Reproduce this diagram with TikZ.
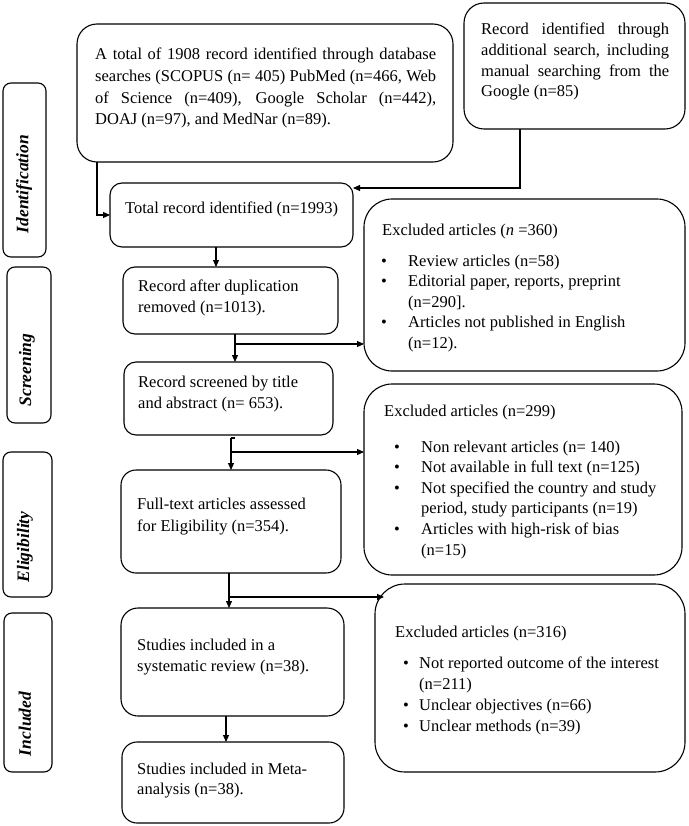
\documentclass[tikz,border=0pt]{standalone}
\usepackage{fontspec}
\setmainfont{Liberation Serif}
\usetikzlibrary{arrows.meta}
\newcommand\mybox[6]{\node[boxst, rounded corners=#6, minimum width=#4pt-#2pt, minimum height=#5pt-#3pt, anchor=north west] (#1) at (#2,#3) {};}
\begin{document}
\begin{tikzpicture}[x=1pt,y=-1pt,
  boxst/.style={draw, line width=1.1pt, inner sep=0pt, outer sep=0pt},
  txt/.style={anchor=base west, inner sep=0pt, align=left, font=\fontsize{16.5}{21}\selectfont},
  bul/.style={anchor=base, inner sep=0pt, font=\fontsize{16.5}{21}\selectfont},
  phase/.style={rotate=90, inner sep=0pt, font=\fontsize{17.5}{20}\selectfont\bfseries\itshape},
  arr/.style={line width=1.1pt, -{Triangle[length=7pt,width=6pt]}},
  ln/.style={line width=1.1pt}]
\useasboundingbox (0,0) rectangle (688,826);
% phase boxes
\mybox{PI}{3}{83}{46}{257}{8pt}
\mybox{PS}{7}{267}{51}{423}{8pt}
\mybox{PE}{3}{452}{52}{597}{8pt}
\mybox{PN}{4}{613}{52}{772}{8pt}
\node[phase] (LI) at (24,184) {Identification};
\node[phase] (LS) at (27,370) {Screening};
\node[phase] (LE) at (25,547) {Eligibility};
\node[phase] (LN) at (25,724) {Included};
% main boxes
\mybox{A}{77}{24}{453}{162}{20pt}
\mybox{B}{464}{3}{685}{129}{20pt}
\mybox{T}{110}{183}{353}{247}{12pt}
\mybox{D}{123}{267}{338}{334}{12pt}
\mybox{S}{124}{362}{333}{435}{12pt}
\mybox{F}{121}{470}{341}{573}{15pt}
\mybox{R}{121}{608}{344}{716}{17pt}
\mybox{M}{122}{742}{344}{823}{15pt}
\mybox{E1}{364}{199}{685}{371}{28pt}
\mybox{E2}{364}{384}{682}{575}{28pt}
\mybox{E3}{375}{584}{685}{772}{30pt}
% texts (anchored at the baseline of the last line)
\node[txt, font=\fontsize{16.5}{21.8}\selectfont] (tA) at (95,125) {\makebox[341pt][s]{A total of 1908 record identified through database}\\
\makebox[341pt][s]{searches (SCOPUS (n= 405) PubMed (n=466, Web}\\
\makebox[341pt][s]{of Science (n=409), Google Scholar (n=442),}\\
DOAJ (n=97), and MedNar (n=89).};
\node[txt, font=\fontsize{16.5}{20.7}\selectfont] (tB) at (481,97) {\makebox[188pt][s]{Record identified through}\\
\makebox[188pt][s]{additional search, including}\\
\makebox[188pt][s]{manual searching from the}\\
Google (n=85)};
\node[txt] (tT) at (125,214) {Total record identified (n=1993)};
\node[txt] (tD) at (138,312) {Record after duplication\\ removed (n=1013).};
\node[txt] (tS) at (138,408) {Record screened by title\\ and abstract (n= 653).};
\node[txt, font=\fontsize{16.5}{22}\selectfont] (tF) at (137,531) {Full-text articles assessed\\ for Eligibility (n=354).};
\node[txt] (tR) at (137,671) {Studies included in a\\ systematic review (n=38).};
\node[txt, font=\fontsize{16.5}{20}\selectfont] (tM) at (137,794) {Studies included in Meta-\\ analysis (n=38).};
% excluded 1
\node[txt] (e1t) at (382,235) {Excluded articles (\textit{n} =360)};
\node[txt, font=\fontsize{16.5}{20.5}\selectfont] (e1l) at (408,348) {Review articles (n=58)\\ Editorial paper, reports, preprint\\ (n=290].\\ Articles not published in English\\ (n=12).};
\node[bul] (e1a) at (384,266) {\textbullet};
\node[bul] (e1b) at (384,286.5) {\textbullet};
\node[bul] (e1c) at (384,327.5) {\textbullet};
% excluded 2
\node[txt] (e2t) at (384,416) {Excluded articles (n=299)};
\node[txt, font=\fontsize{16.5}{20.6}\selectfont] (e2l) at (421,555) {Non relevant articles (n= 140)\\ Not available in full text (n=125)\\ Not specified the country and study\\ period, study participants (n=19)\\ Articles with high-risk of bias\\ (n=15)};
\node[bul] (e2a) at (397,452) {\textbullet};
\node[bul] (e2b) at (397,472.6) {\textbullet};
\node[bul] (e2c) at (397,493.2) {\textbullet};
\node[bul] (e2d) at (397,534.4) {\textbullet};
% excluded 3
\node[txt] (e3t) at (395,637) {Excluded articles (n=316)};
\node[txt, font=\fontsize{16.5}{21.3}\selectfont] (e3l) at (419,731.9) {Not reported outcome of the interest\\ (n=211)\\ Unclear objectives (n=66)\\ Unclear methods (n=39)};
\node[bul] (e3a) at (406,668) {\textbullet};
\node[bul] (e3b) at (406,710.6) {\textbullet};
\node[bul] (e3c) at (406,731.9) {\textbullet};
% connectors
\coordinate (a1) at (97,0);
\draw[arr] (A.south -| a1) |- (T.west);
\coordinate (b1) at (520,188);
\draw[arr] (B.south -| b1) |- (b1 -| T.east);
\coordinate (c1) at (216,0);
\draw[arr] (T.south -| c1) -- (D.north -| c1);
\coordinate (j1) at (235,344);
\draw[arr] (D.south -| j1) -- (S.north -| j1);
\draw[arr] (j1) -- (j1 -| E1.west);
\coordinate (j2) at (231,452);
\coordinate (k2) at (231,438);
\draw[ln] ([xshift=4pt]k2) -- (k2);
\draw[arr] (k2) -- (F.north -| j2);
\draw[arr] (j2) -- (j2 -| E2.west);
\coordinate (j3) at (229,597);
\draw[arr] (F.south -| j3) -- (R.north -| j3);
\draw[arr] (j3) -- ([xshift=9pt]j3 -| E3.west);
\coordinate (j4) at (226,0);
\draw[arr] (R.south -| j4) -- (M.north -| j4);
\end{tikzpicture}
\end{document}
